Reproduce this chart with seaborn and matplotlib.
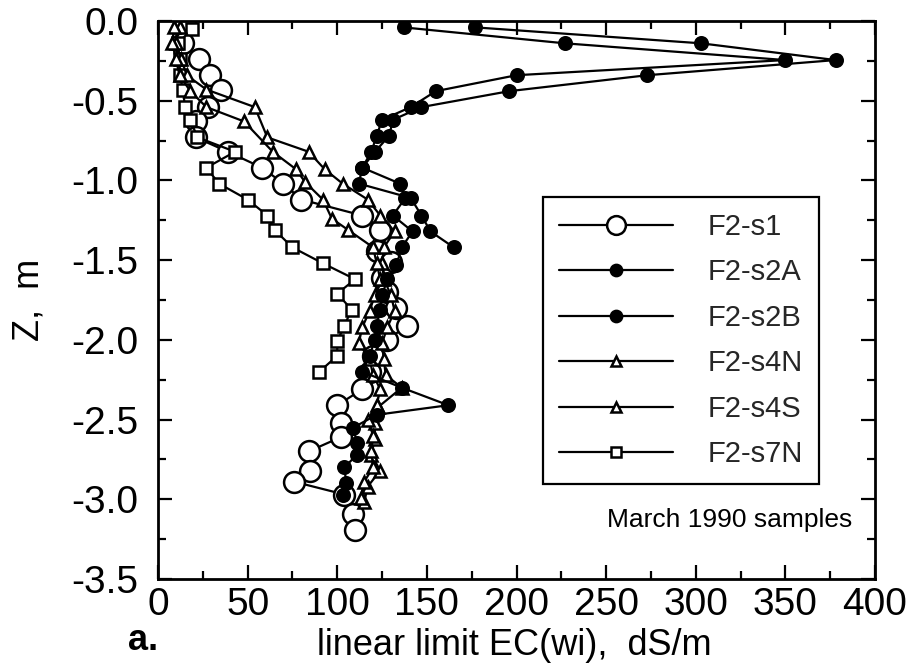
import matplotlib
matplotlib.use("Agg")
import matplotlib.pyplot as plt
import seaborn as sns
import pandas as pd
from matplotlib.ticker import MultipleLocator

# ---------------- data ----------------
s1_z = [-0.01, -0.14, -0.24, -0.34, -0.43, -0.54, -0.63, -0.73, -0.82, -0.92,
        -1.02, -1.12, -1.22, -1.31, -1.44, -1.51, -1.61, -1.70, -1.80, -1.91,
        -2.00, -2.10, -2.20, -2.31, -2.41, -2.52, -2.61, -2.70, -2.82, -2.89,
        -2.97, -3.09, -3.19]
s1_ec = [15, 14, 23, 29, 35, 28, 21, 21, 39, 58,
         70, 80, 114, 124, 122, 130, 125, 128, 133, 139,
         128, 120, 118, 114, 100, 102, 102, 84, 85, 76,
         104, 109, 110]

s2a_z = [-0.04, -0.14, -0.245, -0.34, -0.44, -0.54, -0.62, -0.72, -0.82, -0.92,
         -1.02, -1.11, -1.22, -1.32, -1.42]
s2a_ec = [137, 227, 350, 200, 155, 141, 125, 122, 119, 114,
          112, 141, 147, 152, 165]

s2b_z = [-0.04, -0.14, -0.245, -0.34, -0.44, -0.54, -0.62, -0.72, -0.82, -0.92,
         -1.02, -1.11, -1.22, -1.32, -1.42, -1.53, -1.62, -1.72, -1.81, -1.91,
         -2.00, -2.10, -2.20, -2.30, -2.41, -2.47, -2.55, -2.65, -2.72, -2.80,
         -2.90, -2.97]
s2b_ec = [177, 303, 378, 273, 196, 147, 131, 129, 121, 114,
          135, 138, 131, 142, 136, 133, 128, 125, 124, 122,
          121, 118, 114, 136, 162, 122, 109, 111, 111, 104,
          105, 103]

s4n_z = [-0.04, -0.14, -0.24, -0.34, -0.43, -0.54, -0.73, -0.82, -0.93, -1.02,
         -1.12, -1.22, -1.32, -1.42, -1.52, -1.62, -1.72, -1.82, -1.92, -2.02,
         -2.12, -2.22, -2.30, -2.42, -2.52, -2.62, -2.72, -2.82, -2.92, -3.02]
s4n_ec = [12, 10, 13, 16, 27, 54, 61, 84, 93, 103,
          117, 124, 132, 126, 125, 126, 130, 132, 128, 125,
          126, 127, 136, 123, 121, 121, 119, 124, 117, 115]

s4s_z = [-0.04, -0.14, -0.24, -0.34, -0.44, -0.54, -0.63, -0.82, -0.93, -1.01,
         -1.12, -1.24, -1.31, -1.42, -1.52, -1.62, -1.72, -1.82, -1.92, -2.02,
         -2.12, -2.22, -2.31, -2.41, -2.50, -2.60, -2.70, -2.80, -2.89, -2.99]
s4s_ec = [9, 8, 10, 12, 18, 27, 48, 64, 77, 82,
          92, 97, 106, 120, 122, 124, 121, 118, 114, 112,
          118, 120, 124, 122, 117, 120, 119, 120, 115, 113]

s7n_z = [-0.05, -0.14, -0.24, -0.34, -0.43, -0.54, -0.62, -0.73, -0.82, -0.92,
         -1.02, -1.12, -1.22, -1.31, -1.42, -1.52, -1.62, -1.71, -1.81, -1.91,
         -2.01, -2.10, -2.20]
s7n_ec = [19, 11, 12, 12, 14, 15, 18, 22, 43, 27,
          34, 50, 61, 65, 75, 92, 110, 100, 108, 104,
          100, 100, 90]

labels = ["F2-s1", "F2-s2A", "F2-s2B", "F2-s4N", "F2-s4S", "F2-s7N"]
x_ticks = [0, 50, 100, 150, 200, 250, 300, 350, 400]
y_ticks = [0.0, -0.5, -1.0, -1.5, -2.0, -2.5, -3.0, -3.5]

# ---------------- style ----------------
sns.set_theme(style="ticks")
plt.rcParams["font.family"] = ["Liberation Sans", "DejaVu Sans"]

W, H = 909, 670
fig = plt.figure(figsize=(W / 100, H / 100), dpi=100)
L, R, T, B = 158, 875, 21, 579
ax = fig.add_axes([L / W, 1 - B / H, (R - L) / W, (B - T) / H])

series = [
    (s1_ec, s1_z, labels[0], dict(marker="o", markersize=15, markerfacecolor="white")),
    (s7n_ec, s7n_z, labels[5], dict(marker="s", markersize=8.5, markerfacecolor="white")),
    (s4n_ec, s4n_z, labels[3], dict(marker="^", markersize=8, markerfacecolor="white")),
    (s4s_ec, s4s_z, labels[4], dict(marker="^", markersize=8, markerfacecolor="white")),
    (s2a_ec, s2a_z, labels[1], dict(marker="o", markersize=9, markerfacecolor="black")),
    (s2b_ec, s2b_z, labels[2], dict(marker="o", markersize=9, markerfacecolor="black")),
]

handles = {}
for ec, z, lab, mk in series:
    df = pd.DataFrame({"EC": ec, "Z": z})
    sns.lineplot(data=df, x="EC", y="Z", sort=False, estimator=None, ax=ax,
                 color="black", linewidth=1.6, markeredgecolor="black",
                 markeredgewidth=1.8, label=lab, **mk)
    handles[lab] = ax.lines[-1]

ax.set_xlim(0, 400)
ax.set_ylim(-3.5, 0.0)
ax.set_xticks(x_ticks)
ax.set_yticks(y_ticks)
ax.set_yticklabels([f"{v:.1f}" for v in y_ticks])
ax.xaxis.set_minor_locator(MultipleLocator(25))
ax.yaxis.set_minor_locator(MultipleLocator(0.25))
ax.tick_params(which="both", direction="in", top=True, right=True, width=1.6,
               colors="black")
ax.tick_params(which="major", length=10, labelsize=28, pad=6)
ax.tick_params(which="minor", length=6)
ax.tick_params(axis="y", which="major", pad=14)
for sp in ax.spines.values():
    sp.set_linewidth(2.0)
    sp.set_color("black")

ax.set_xlabel("linear limit EC(wi),  dS/m", fontsize=26, color="black")
ax.set_ylabel("Z,  m", fontsize=26, color="black")
ax.xaxis.set_label_coords(0.497, -0.088)
ax.yaxis.set_label_coords(-0.155, 0.5)

leg = ax.legend([handles[l] for l in labels], labels, loc="upper left",
                bbox_to_anchor=(0.537, 0.685), borderaxespad=0, fontsize=21,
                frameon=True, fancybox=False, edgecolor="black",
                handlelength=3.9, handletextpad=1.2, labelspacing=0.6,
                borderpad=0.55, markerscale=0.9)
leg.get_frame().set_linewidth(1.6)
leg.get_frame().set_alpha(1)

ax.text(319, -3.13, "March 1990 samples", fontsize=19, ha="center",
        va="center", color="black")
fig.text(128 / W, 1 - 640 / H, "a.", fontsize=26, fontweight="bold",
         ha="left", va="center", color="black")

fig.savefig("out.png", dpi=100)
